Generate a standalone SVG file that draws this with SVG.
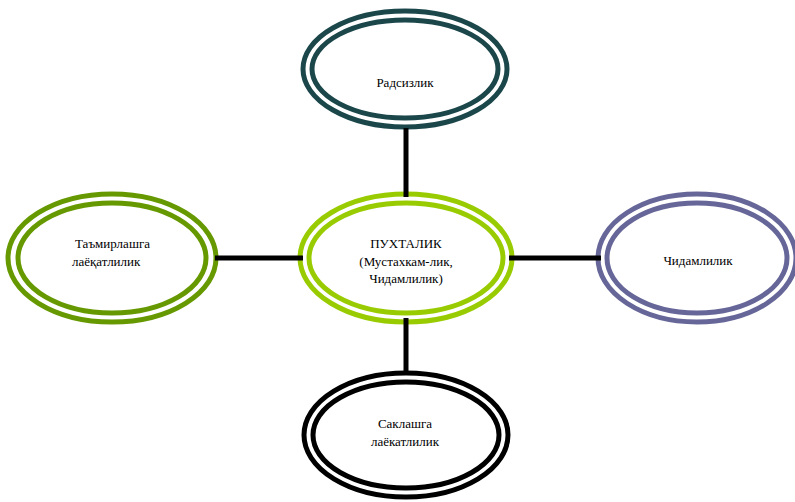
<svg xmlns="http://www.w3.org/2000/svg" width="795" height="502" viewBox="0 0 795 502">
<style>
.o{fill:#fff;stroke-width:5}
.i{fill:none;stroke-width:5}
.t{font-family:"Liberation Serif","Times New Roman",serif;font-size:13px;fill:#000}
.c{text-anchor:middle}
.ln{stroke:#000;stroke-width:5;fill:none}
</style>
<rect width="795" height="502" fill="#fff"/>
<g id="node-top" stroke="#1B474B">
<ellipse class="o" cx="405" cy="69" rx="102" ry="58"/>
<ellipse class="i" cx="405" cy="69" rx="93" ry="49"/>
<text class="t c" x="405" y="87" stroke="none">Радсизлик</text>
</g>
<g id="node-center" stroke="#99CC00">
<ellipse class="o" cx="406" cy="258" rx="106" ry="64"/>
<ellipse class="i" cx="406" cy="258" rx="97" ry="55"/>
<text class="t c" stroke="none"><tspan x="406" y="248">ПУХТАЛИК</tspan><tspan x="406" y="266">(Мустахкам-лик,</tspan><tspan x="406" y="283">Чидамлилик)</tspan></text>
</g>
<g id="node-left" stroke="#669900">
<ellipse class="o" cx="112" cy="258" rx="104" ry="64"/>
<ellipse class="i" cx="112" cy="258" rx="94" ry="55"/>
<text class="t" stroke="none"><tspan x="75" y="248">Таъмирлашга</tspan><tspan x="72" y="266">лаёқатлилик</tspan></text>
</g>
<g id="node-right" stroke="#666699">
<ellipse class="o" cx="697" cy="258" rx="99" ry="64"/>
<ellipse class="i" cx="697" cy="258" rx="90" ry="55"/>
<text class="t c" x="698" y="265" stroke="none">Чидамлилик</text>
</g>
<g id="node-bottom" stroke="#000">
<ellipse class="o" cx="406" cy="435" rx="102" ry="62"/>
<ellipse class="i" cx="406" cy="435" rx="93" ry="53"/>
<text class="t c" stroke="none"><tspan x="405" y="428">Саклашга</tspan><tspan x="405" y="446">лаёкатлилик</tspan></text>
</g>
<g id="connectors">
<line class="ln" x1="406" y1="128" x2="406" y2="197"/>
<line class="ln" x1="406" y1="318" x2="406" y2="374"/>
<line class="ln" x1="215" y1="258" x2="303" y2="258"/>
<line class="ln" x1="509" y1="258" x2="601" y2="258"/>
</g>
</svg>
